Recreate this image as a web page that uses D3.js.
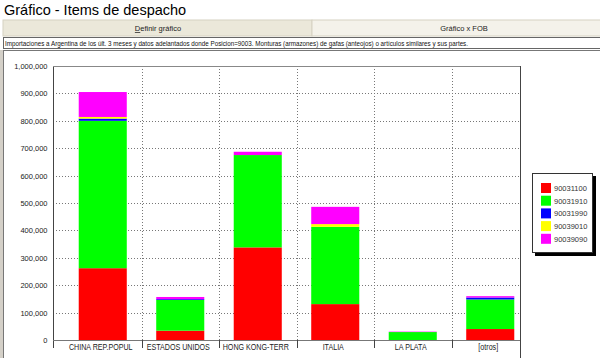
<!DOCTYPE html>
<html>
<head>
<meta charset="utf-8">
<script src="https://cdn.jsdelivr.net/npm/d3@7"></script>
<style>
  body { margin: 0; background: #fff; }
  svg { display: block; font-family: Arial, "Liberation Sans", sans-serif; }
</style>
</head>
<body>
<div id="stage"></div>
<script>
const categories = ["CHINA REP.POPUL", "ESTADOS UNIDOS", "HONG KONG-TERR", "ITALIA", "LA PLATA", "[otros]"];
const seriesNames = ["90031100", "90031910", "90031990", "90039010", "90039090"];
const s90031100 = [262000, 34000, 338000, 131000, 0, 40000];
const s90031910 = [538000, 112000, 337000, 282000, 29000, 108000];
const s90031990 = [8000, 3000, 0, 0, 0, 7000];
const s90039010 = [6000, 0, 0, 10000, 0, 0];
const s90039090 = [91000, 8000, 12000, 63000, 1500, 5000];
const yTicks = [0, 100000, 200000, 300000, 400000, 500000, 600000, 700000, 800000, 900000, 1000000];
const colors = ["#ff0000", "#00ff00", "#0000ff", "#ffff00", "#ff00ff"];

const title = "Gráfico - Items de despacho";
const subtitle = "Importaciones a Argentina de los últ. 3 meses y datos adelantados donde Posicion=9003. Monturas (armazones) de gafas (anteojos) o artículos similares y sus partes.";

const W = 600, H = 358;
const plot = { left: 53, right: 520, top: 66, bottom: 340 };

const svg = d3.select("#stage").append("svg")
  .attr("width", W)
  .attr("height", H);

// header
svg.append("text")
  .attr("x", 4).attr("y", 14.5)
  .attr("font-size", 14.5)
  .attr("fill", "#000")
  .text(title);

// tabs
svg.append("rect").attr("x", 3).attr("y", 20).attr("width", 309).attr("height", 16)
  .attr("fill", "#ebe8da").attr("stroke", "#d6d2c2");
svg.append("rect").attr("x", 312).attr("y", 20).attr("width", 290).attr("height", 16)
  .attr("fill", "#f4f2ea").attr("stroke", "#d6d2c2");
const t1 = svg.append("text").attr("x", 158).attr("y", 31).attr("text-anchor", "middle")
  .attr("font-size", 7.5).attr("fill", "#222");
t1.append("tspan").attr("text-decoration", "underline").text("D");
t1.append("tspan").text("efinir gráfico");
svg.append("text").attr("x", 464).attr("y", 31).attr("text-anchor", "middle")
  .attr("font-size", 7.5).attr("fill", "#222").text("Gráfico x FOB");

// subtitle box
svg.append("rect").attr("x", 3.5).attr("y", 37.5).attr("width", 600).attr("height", 11)
  .attr("fill", "#fff").attr("stroke", "#666");
const sub = svg.append("text").attr("x", 5).attr("y", 46)
  .attr("font-size", 7.5).attr("fill", "#111").text(subtitle);
const subLen = sub.node().getComputedTextLength();
if (subLen > 463) sub.attr("textLength", 463).attr("lengthAdjust", "spacingAndGlyphs");

// chart frame
svg.append("rect").attr("x", 0).attr("y", 50).attr("width", 3).attr("height", H - 50).attr("fill", "#d4d0c8");
svg.append("rect").attr("x", 3.5).attr("y", 50.5).attr("width", 600).attr("height", 310)
  .attr("fill", "#fff").attr("stroke", "#777");

// scales
const x = d3.scaleBand().domain(categories).range([64, 529]).paddingInner(0).paddingOuter(0);
const y = d3.scaleLinear().domain([0, 1000000]).range([plot.bottom, plot.top]);

// grid
const grid = svg.append("g").attr("stroke", "#777").attr("stroke-dasharray", "1,2").attr("stroke-width", 1);
grid.selectAll("line.h").data(yTicks.slice(1, -1)).join("line")
  .attr("class", "h")
  .attr("x1", plot.left).attr("x2", plot.right)
  .attr("y1", d => Math.round(y(d)) + 0.5).attr("y2", d => Math.round(y(d)) + 0.5);
grid.selectAll("line.v").data(categories.slice(1)).join("line")
  .attr("class", "v")
  .attr("x1", d => Math.round(x(d)) + 0.5).attr("x2", d => Math.round(x(d)) + 0.5)
  .attr("y1", plot.top).attr("y2", plot.bottom);

// stacked bars
const table = categories.map((c, i) => ({
  cat: c,
  "90031100": s90031100[i],
  "90031910": s90031910[i],
  "90031990": s90031990[i],
  "90039010": s90039010[i],
  "90039090": s90039090[i]
}));
const stacked = d3.stack().keys(seriesNames)(table);
const barW = x.bandwidth() * 0.62;

svg.append("g").selectAll("g").data(stacked).join("g")
  .attr("fill", (d, i) => colors[i])
  .selectAll("rect").data(d => d).join("rect")
  .attr("x", d => x(d.data.cat) + (x.bandwidth() - barW) / 2)
  .attr("width", barW)
  .attr("y", d => y(d[1]))
  .attr("height", d => Math.max(0, y(d[0]) - y(d[1])));

// axes
const yAxis = svg.append("g").attr("transform", `translate(${plot.left + 0.5},0)`)
  .call(d3.axisLeft(y).tickValues(yTicks).tickFormat(d3.format(",")).tickSize(0).tickPadding(6));
yAxis.select(".domain").remove();
yAxis.selectAll("text").attr("font-size", 7.5).attr("font-family", "Arial, 'Liberation Sans', sans-serif").attr("fill", "#222");

svg.append("line").attr("x1", plot.left + 0.5).attr("x2", plot.left + 0.5)
  .attr("y1", plot.top).attr("y2", 348).attr("stroke", "#444");
svg.append("line").attr("x1", plot.left).attr("x2", plot.right)
  .attr("y1", plot.bottom + 0.5).attr("y2", plot.bottom + 0.5).attr("stroke", "#777");
svg.append("line").attr("x1", plot.left).attr("x2", plot.right)
  .attr("y1", plot.top + 0.5).attr("y2", plot.top + 0.5).attr("stroke", "#888");
svg.append("line").attr("x1", plot.right + 0.5).attr("x2", plot.right + 0.5)
  .attr("y1", plot.top).attr("y2", H).attr("stroke", "#444");

// x ticks and labels
svg.append("g").selectAll("line").data(categories.slice(1)).join("line")
  .attr("x1", d => Math.round(x(d)) + 0.5).attr("x2", d => Math.round(x(d)) + 0.5)
  .attr("y1", plot.bottom).attr("y2", 348).attr("stroke", "#444");

svg.append("g").selectAll("g").data(categories).join("g")
  .attr("transform", d => `translate(${x(d) + x.bandwidth() / 2 - 2},350) scale(0.84,1)`)
  .append("text")
  .attr("text-anchor", "middle")
  .attr("font-size", 8.5)
  .attr("fill", "#222")
  .text(d => d);

// legend
const lg = svg.append("g").attr("transform", "translate(532,173)");
lg.append("rect").attr("x", 3).attr("y", 3).attr("width", 61).attr("height", 80).attr("fill", "#000");
lg.append("rect").attr("x", 0.5).attr("y", 0.5).attr("width", 60).attr("height", 79)
  .attr("fill", "#fff").attr("stroke", "#333");
const items = lg.selectAll("g.item").data(seriesNames).join("g")
  .attr("class", "item")
  .attr("transform", (d, i) => `translate(9,${10 + i * 12.7})`);
items.append("rect").attr("width", 10).attr("height", 10).attr("fill", (d, i) => colors[i]);
items.append("text").attr("x", 13).attr("y", 8).attr("font-size", 7.5).attr("fill", "#333").text(d => d);
</script>
</body>
</html>
